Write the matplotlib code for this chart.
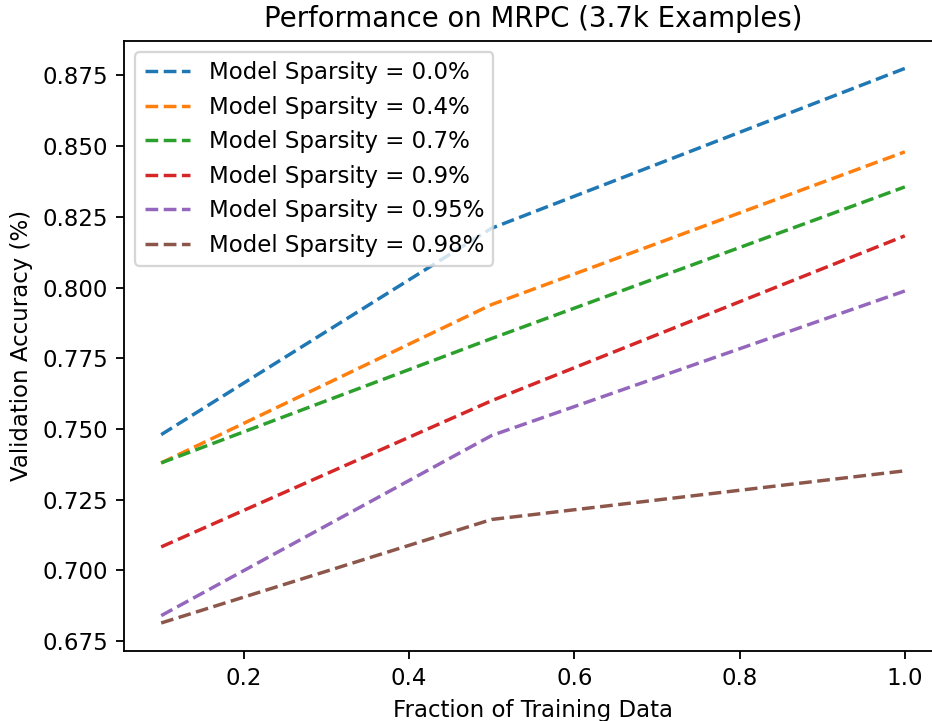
import matplotlib
matplotlib.use('Agg')
import matplotlib.pyplot as plt

fractions = [0.1, 0.5, 1.0]
sparsities = ['0.0', '0.4', '0.7', '0.9', '0.95', '0.98']
acc_00 = [0.748, 0.821, 0.8775]
acc_04 = [0.738, 0.794, 0.848]
acc_07 = [0.738, 0.782, 0.8356]
acc_09 = [0.7083, 0.760, 0.8183]
acc_095 = [0.684, 0.7477, 0.7988]
acc_098 = [0.6814, 0.718, 0.7352]
all_acc = [acc_00, acc_04, acc_07, acc_09, acc_095, acc_098]

# original looks like a default figure saved at ~165 dpi and cropped on the right
dpi = 165
fig = plt.figure(figsize=(932 / dpi, 721 / dpi), dpi=dpi)
ax = fig.add_axes([124 / 932, 70.3 / 721, 818 / 932, 610 / 721])

for s, acc in zip(sparsities, all_acc):
    ax.plot(fractions, acc, linestyle='--', label='Model Sparsity = ' + s + '%')

ax.set_title('Performance on MRPC (3.7k Examples)')
ax.set_xlabel('Fraction of Training Data')
ax.set_ylabel('Validation Accuracy (%)')
ax.legend(loc='upper left')

fig.savefig('out.png', dpi=dpi)
